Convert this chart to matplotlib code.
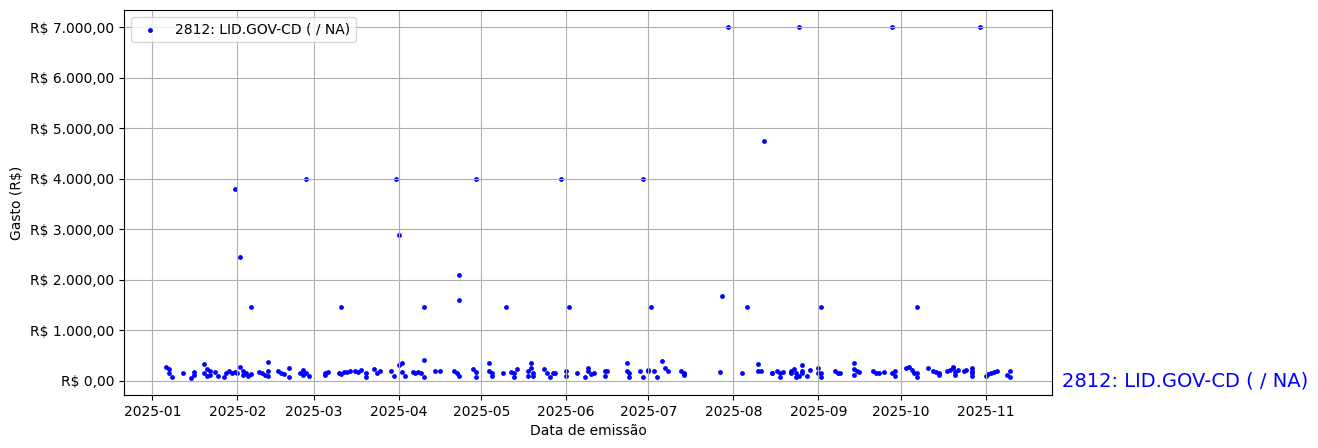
import numpy as np
import pandas as pd
import matplotlib
matplotlib.use("Agg")
import matplotlib.pyplot as plt
import matplotlib.dates as mdates
import matplotlib.ticker as mticker
import matplotlib.transforms as mtransforms

serie = "2812: LID.GOV-CD ( / NA)"

# gastos altos
datas_altas = ["01-31", "02-02", "02-06", "02-26", "03-11", "03-31", "04-01", "04-10",
               "04-23", "04-23", "04-29", "05-10", "05-30", "06-02", "06-29", "07-02",
               "07-28", "07-30", "08-06", "08-12", "08-25", "09-02", "09-28", "10-07",
               "10-30"]
valores_altos = [3800, 2450, 1460, 4000, 1460, 4000, 2890, 1460,
                 2100, 1600, 4000, 1460, 4000, 1460, 4000, 1460,
                 1680, 7000, 1460, 4740, 7000, 1460, 7000, 1460,
                 7000]

# gastos pequenos (faixa perto de zero)
datas_baixas = [
    "01-06", "01-07", "01-07", "01-08", "01-12", "01-15", "01-16", "01-16",
    "01-20", "01-20", "01-21", "01-21", "01-22", "01-22", "01-24", "01-25",
    "01-27", "01-28", "01-29", "01-30", "01-31", "02-01", "02-02", "02-03",
    "02-03", "02-04", "02-05", "02-06", "02-09", "02-10", "02-11", "02-12",
    "02-12", "02-12", "02-16", "02-17", "02-18", "02-20", "02-20", "02-24",
    "02-25", "02-25", "02-26", "02-27",
    "03-05", "03-05", "03-06", "03-10", "03-11", "03-12", "03-13", "03-14",
    "03-16", "03-17", "03-18", "03-20", "03-20", "03-23", "03-24", "03-25",
    "03-29", "03-30", "04-01", "04-02", "04-02", "04-03", "04-06", "04-07",
    "04-08", "04-09", "04-10", "04-10", "04-14", "04-16", "04-21", "04-22",
    "04-23",
    "04-28", "04-29", "04-29", "05-04", "05-04", "05-05", "05-05", "05-09",
    "05-12", "05-13", "05-13", "05-14", "05-18", "05-18", "05-19", "05-19",
    "05-20", "05-20", "05-24", "05-25", "05-26", "05-27", "05-28", "06-01",
    "06-01", "06-05", "06-08", "06-09", "06-09", "06-10", "06-11", "06-15",
    "06-15", "06-16",
    "06-23", "06-23", "06-24", "06-24", "06-28", "06-29", "07-01", "07-01",
    "07-03", "07-04", "07-06", "07-07", "07-08", "07-13", "07-14", "07-14",
    "07-14", "07-27", "08-04", "08-10", "08-10", "08-11", "08-15",
    "08-15", "08-17", "08-18", "08-18", "08-19", "08-22", "08-22", "08-23",
    "08-24", "08-24", "08-25", "08-26", "08-26", "08-26", "08-28", "08-29",
    "09-01", "09-01", "09-02", "09-02", "09-07", "09-08", "09-09", "09-14",
    "09-14", "09-15", "09-14", "09-16", "09-21", "09-22", "09-23", "09-25",
    "09-28", "09-29", "09-29", "10-03",
    "10-04", "10-05", "10-06", "10-07", "10-07", "10-11", "10-13", "10-14",
    "10-15", "10-15", "10-18", "10-19", "10-20", "10-20", "10-21", "10-21",
    "10-22", "10-24", "10-25", "10-27", "10-27", "10-27", "10-27", "11-01",
    "11-02", "11-03", "11-04", "11-05", "11-09", "11-10", "11-10"]
valores_baixos = [
    264, 225, 159, 79, 159, 60, 106, 172,
    330, 159, 238, 93, 185, 106, 172, 93,
    79, 159, 192, 159, 172, 145, 264, 192,
    106, 145, 93, 125, 172, 159, 106, 370,
    185, 93, 192, 159, 125, 251, 79, 159,
    211, 119, 145, 93,
    106, 145, 172, 145, 125, 172, 178, 192,
    185, 172, 211, 145, 79, 225, 145, 185,
    192, 93, 304, 357, 172, 93, 172, 159,
    172, 145, 410, 79, 185, 192, 185, 145,
    93,
    225, 172, 79, 344, 192, 145, 93, 159,
    172, 79, 145, 225, 192, 93, 357, 258,
    159, 93, 225, 145, 79, 159, 145, 192,
    93, 145, 79, 258, 192, 125, 145, 192,
    93, 192,
    357, 192, 145, 79, 192, 79, 192, 211,
    192, 79, 390, 258, 192, 192, 145, 106,
    125, 172, 145, 324, 192, 192, 145,
    159, 192, 145, 79, 172, 192, 145, 238,
    145, 79, 93, 304, 192, 145, 93, 211,
    258, 145, 79, 145, 192, 159, 159, 357,
    225, 192, 106, 172, 192, 145, 145, 172,
    159, 192, 93, 258,
    278, 211, 159, 145, 79, 258, 192, 172,
    106, 145, 192, 211, 258, 278, 172, 106,
    211, 192, 211, 145, 258, 192, 93, 93,
    125, 159, 172, 192, 106, 192, 79]

df = pd.DataFrame({
    "data": pd.to_datetime(["2025-" + d for d in datas_altas + datas_baixas]),
    "gasto": valores_altos + valores_baixos,
}).sort_values("data")


def reais(x, pos):
    s = f"{x:,.2f}".replace(",", "X").replace(".", ",").replace("X", ".")
    return "R$ " + s


fig, ax = plt.subplots(figsize=(13.18, 4.48), dpi=100)
fig.subplots_adjust(left=0.094, right=0.7985, top=0.978, bottom=0.118)

ax.scatter(df["data"], df["gasto"], s=6, color="blue", label=serie)
ax.yaxis.set_major_formatter(mticker.FuncFormatter(reais))
ax.xaxis.set_major_locator(mdates.MonthLocator())
ax.xaxis.set_major_formatter(mdates.DateFormatter("%Y-%m"))
ax.set_xlabel("Data de emissão")
ax.set_ylabel("Gasto (R$)")
ax.grid(True)
ax.legend(loc="upper left")

trans = mtransforms.blended_transform_factory(ax.transAxes, ax.transData)
ax.text(1.01, 0, serie, transform=trans, color="blue", fontsize=14,
        va="center", ha="left")

fig.savefig("out.png", dpi=100)
